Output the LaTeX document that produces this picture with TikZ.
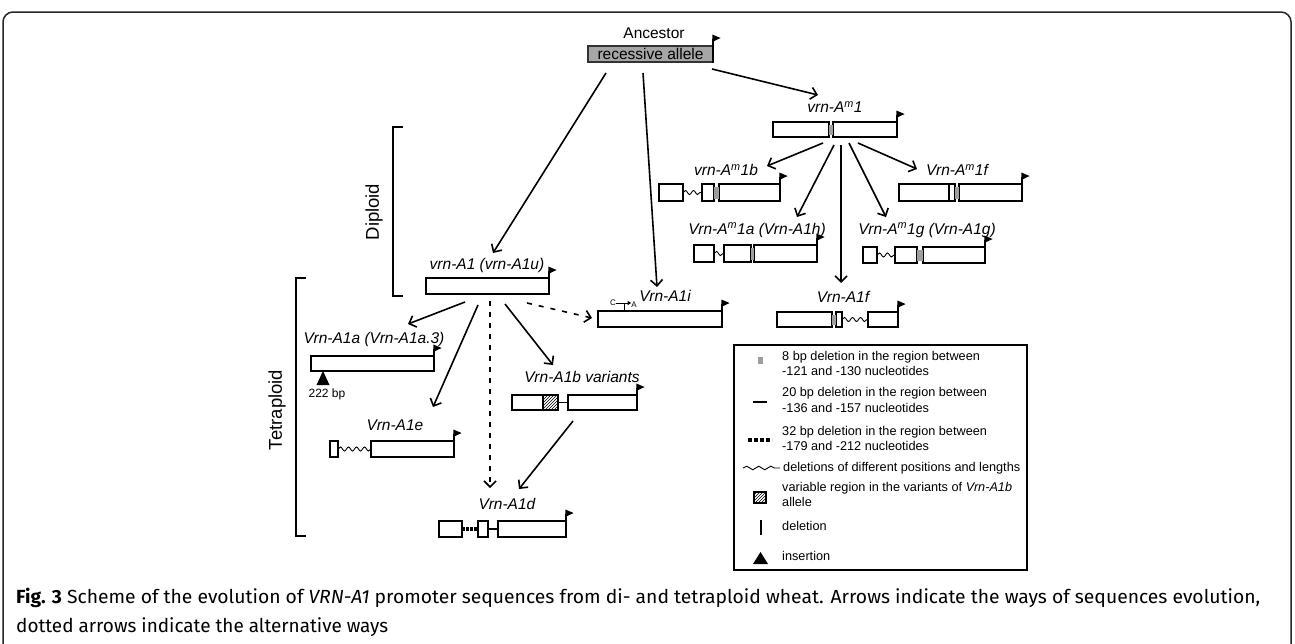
\documentclass[tikz,border=0pt]{standalone}
\usepackage{fontspec}
\setmainfont{Liberation Sans}
\newfontfamily\capfont{Fira Sans}
\usetikzlibrary{arrows.meta,decorations.pathmorphing,patterns}
\newcommand\gbx[5]{\node[gb,minimum width={#3pt-#2pt},minimum height={#5pt-#4pt}] (#1) at ({(#2+#3)/2},{(#4+#5)/2}) {};}
\newcommand\gapr[4]{\fill[gapc] (#1,#3+3) rectangle (#2,#4-2.5);}
\newcommand\prom[3]{\draw[line width=2pt] (#1,#2+0.6) -- (#1,#3-7.5);
  \fill (#1-0.6,#3-11.5) -- (#1+7.5,#3-8) -- (#1-0.6,#3-4) -- cycle;}
\newcommand\wv[3]{\draw[wav] (#1,#3) -- (#2,#3);}
\begin{document}
\begin{tikzpicture}[x=1pt,y=-1pt,
  lbl/.style={font=\fontsize{15.5}{18}\selectfont\itshape, inner sep=0},
  upl/.style={font=\fontsize{15.5}{18}\selectfont, inner sep=0},
  brl/.style={font=\fontsize{18.5}{21}\selectfont, inner sep=0, rotate=90},
  lgt/.style={font=\fontsize{12.7}{15}\selectfont, inner sep=0, anchor=west, text height=9pt, text depth=3pt},
  gb/.style={draw, line width=1.3pt, fill=white, inner sep=0, outer sep=0},
  gapc/.style={fill=black!38},
  arr/.style={line width=1.6pt, -{Straight Barb[length=6pt,width=12pt]}},
  darr/.style={arr, dash pattern=on 5pt off 7pt},
  wav/.style={decorate, decoration={snake, amplitude=2pt, segment length=8pt}, line width=0.9pt},
]
\useasboundingbox (0,0) rectangle (1295,643);
% frame
\draw[line width=1.5pt, black!85, rounded corners=10pt] (3,660) -- (3,12) -- (1291,12) -- (1291,660);

% ---------- Ancestor ----------
\node[upl] (anc) at (654,33) {Ancestor};
\node[draw=black!80, line width=1.3pt, fill=black!35, minimum width=125pt, minimum height=16pt, inner sep=0,
      font=\fontsize{15.5}{18}\selectfont] (ancbox) at (650.5,54) {recessive allele};
\prom{713}{62}{46}

% ---------- vrn-Am1 ----------
\node[lbl] (lAm1) at (835,107) {vrn-A\textsuperscript{m}1};
\gbx{bAm1L}{773}{829}{122}{137}
\gbx{bAm1R}{833}{897}{122}{137}
\gapr{829}{833}{122}{137}
\prom{897}{137}{122}

% vrn-Am1b
\node[lbl] (lAm1b) at (726,170) {vrn-A\textsuperscript{m}1b};
\gbx{bAm1bL}{659}{683}{184}{201}
\gbx{bAm1bS}{702}{714}{184}{201}
\gbx{bAm1bR}{719}{780}{184}{201}
\wv{683}{702}{192.5}
\gapr{714}{719}{184}{201}
\prom{780}{201}{184}

% Vrn-Am1f
\node[lbl] (lAm1f) at (957,170) {Vrn-A\textsuperscript{m}1f};
\gbx{bAm1fL}{899}{949}{184}{201}
\gbx{bAm1fS}{949}{955}{184}{201}
\gbx{bAm1fR}{959}{1022}{184}{201}
\gapr{955}{959}{184}{201}
\prom{1022}{201}{184}

% Vrn-Am1a (Vrn-A1h)
\node[lbl] (lAm1a) at (757,230) {Vrn-A\textsuperscript{m}1a (Vrn-A1h)};
\gbx{bAm1aL}{694}{714}{245}{262}
\gbx{bAm1aM}{724}{751}{245}{262}
\gbx{bAm1aR}{754}{817}{245}{262}
\wv{714}{724}{253.5}
\gapr{751}{754}{245}{262}
\prom{817}{262}{245}

% Vrn-Am1g (Vrn-A1g)
\node[lbl] (lAm1g) at (927,230) {Vrn-A\textsuperscript{m}1g (Vrn-A1g)};
\gbx{bAm1gL}{863}{877}{247}{263}
\gbx{bAm1gM}{895}{917}{247}{263}
\gbx{bAm1gR}{923}{985}{247}{263}
\wv{877}{895}{255}
\gapr{917}{923}{247}{263}
\prom{985}{263}{247}

% Vrn-A1f
\node[lbl] (lA1f) at (843,297) {Vrn-A1f};
\gbx{bA1fL}{777}{832}{312}{327}
\gbx{bA1fS}{836}{842}{312}{327}
\gbx{bA1fR}{868}{898}{312}{327}
\gapr{832}{836}{312}{327}
\wv{842}{868}{319.5}
\prom{898}{327}{312}

% Vrn-A1i
\node[lbl] (lA1i) at (665,296) {Vrn-A1i};
\gbx{bA1i}{598}{722}{311}{327}
\prom{722}{327}{311}
\node[font=\fontsize{8}{9}\selectfont, inner sep=0] (cC) at (613,303) {C};
\node[font=\fontsize{8}{9}\selectfont, inner sep=0] (cA) at (634,305) {A};
\draw[line width=0.8pt, -{Triangle[length=3.5pt,width=4pt]}] (cC.east) -- (cA.west |- cC.east);
\coordinate (tk) at (624,303);
\draw[line width=0.8pt] (tk) -- (tk |- bA1i.north);

% vrn-A1 (vrn-A1u)
\node[lbl] (lA1) at (487,265) {vrn-A1 (vrn-A1u)};
\gbx{bA1}{426}{549}{278}{294}
\prom{549}{294}{278}

% Vrn-A1a (Vrn-A1a.3)
\node[lbl] (lA1a) at (374,339) {Vrn-A1a (Vrn-A1a.3)};
\gbx{bA1a}{311}{434}{356}{371}
\prom{434}{371}{356}
\fill (323,371) -- (316.5,385) -- (329.5,385) -- cycle;
\node[font=\fontsize{12}{14}\selectfont, inner sep=0] (l222) at (327,394) {222 bp};

% Vrn-A1e
\node[lbl] (lA1e) at (395,425) {Vrn-A1e};
\gbx{bA1eS}{330}{338}{441}{457}
\gbx{bA1eR}{371}{454}{441}{457}
\wv{338}{371}{449}
\prom{454}{457}{441}

% Vrn-A1b variants
\node[lbl] (lA1b) at (582,377) {Vrn-A1b variants};
\gbx{bA1bL}{512}{558}{395}{410}
\fill[pattern=north east lines] (543,396) rectangle (557,409);
\draw[line width=1.3pt] (543,395) -- (543,410);
\gbx{bA1bR}{568}{637}{395}{410}
\draw[line width=1.3pt] (bA1bL.east) -- (bA1bR.west);
\prom{637}{410}{395}

% Vrn-A1d
\node[lbl] (lA1d) at (507,504) {Vrn-A1d};
\gbx{bA1dL}{439}{462}{521}{537}
\gbx{bA1dS}{478}{488}{521}{537}
\gbx{bA1dR}{498}{566}{521}{537}
\draw[line width=3.5pt, dash pattern=on 2.5pt off 1.6pt] (bA1dL.east) -- (bA1dS.west);
\draw[line width=1.3pt] (bA1dS.east) -- (bA1dR.west);
\prom{566}{537}{521}

% ---------- brackets ----------
\draw[line width=1.3pt] (403,127) -- (393,127) -- (393,296) -- (403,296);
\node[brl] (ldip) at (374,212) {Diploid};
\draw[line width=1.3pt] (306,278) -- (296,278) -- (296,536) -- (306,536);
\node[brl] (ltet) at (277,410) {Tetraploid};

% ---------- arrows ----------
\coordinate (a1s) at (606,73);  \coordinate (a1e) at (493,253);
\coordinate (a2s) at (643,73);  \coordinate (a2e) at (657,287);
\coordinate (a3s) at (712,69);  \coordinate (a3e) at (818,95);
\draw[arr] (a1s) -- (a1e);
\draw[arr] (a2s) -- (a2e);
\draw[arr] (a3s) -- (a3e);
\coordinate (b1s) at (823,143); \coordinate (b1e) at (767,166);
\coordinate (b2s) at (834,145); \coordinate (b2e) at (797,217);
\coordinate (b3s) at (841,145); \coordinate (b3e) at (841,283);
\coordinate (b4s) at (849,143); \coordinate (b4e) at (886,217);
\coordinate (b5s) at (858,143); \coordinate (b5e) at (917,169);
\draw[arr] (b1s) -- (b1e);
\draw[arr] (b2s) -- (b2e);
\draw[arr] (b3s) -- (b3e);
\draw[arr] (b4s) -- (b4e);
\draw[arr] (b5s) -- (b5e);
\coordinate (c1s) at (465,302); \coordinate (c1e) at (408,324);
\coordinate (c2s) at (478,305); \coordinate (c2e) at (433,407);
\coordinate (c3s) at (490,301); \coordinate (c3e) at (490,488);
\coordinate (c4s) at (505,304); \coordinate (c4e) at (553,365);
\coordinate (c5s) at (527,303); \coordinate (c5e) at (592,318);
\coordinate (d1s) at (573,421); \coordinate (d1e) at (519,489);
\draw[arr] (c1s) -- (c1e);
\draw[arr] (c2s) -- (c2e);
\draw[darr, dash pattern=on 5pt off 6pt] (c3s) -- (c3e);
\draw[arr] (c4s) -- (c4e);
\draw[darr] (c5s) -- (c5e);
\draw[arr] (d1s) -- (d1e);

% ---------- legend ----------
\node[draw, line width=1.3pt, minimum width=293pt, minimum height=225pt, inner sep=0] (leg) at (880.5,457.5) {};
\fill[black!38] (757.5,356.5) rectangle (762.5,363.5);
\node[lgt] (lg1a) at (782,357) {8 bp deletion in the region between};
\node[lgt] (lg1b) at (782,372) {-121 and -130 nucleotides};
\draw[line width=1.6pt] (753,402) -- (767,402);
\node[lgt] (lg2a) at (782,393) {20 bp deletion in the region between};
\node[lgt] (lg2b) at (782,409) {-136 and -157 nucleotides};
\draw[line width=3.5pt, dash pattern=on 3.5pt off 2.5pt] (748,440) -- (772,440);
\node[lgt] (lg3a) at (782,432) {32 bp deletion in the region between};
\node[lgt] (lg3b) at (782,447) {-179 and -212 nucleotides};
\draw[wav, decoration={snake, amplitude=1.8pt, segment length=12pt}] (743,468) -- (780,468);
\node[lgt] (lg4) at (783,468) {deletions of different positions and lengths};
\fill[pattern=north east lines] (754,492) rectangle (766,503);
\draw[line width=1.2pt] (754,492) rectangle (766,503);
\node[lgt] (lg5a) at (782,488) {variable region in the variants of \textit{Vrn-A1b}};
\node[lgt] (lg5b) at (782,503) {allele};
\draw[line width=1.6pt] (761,520) -- (761,535);
\node[lgt] (lg6) at (782,527) {deletion};
\fill (753,564) -- (768,564) -- (760.5,552) -- cycle;
\node[lgt] (lg7) at (782,557) {insertion};

% ---------- caption ----------
\node[anchor=west, inner sep=0] (cap1) at (16,598) {\resizebox{1244pt}{\height}{\capfont\fontsize{19}{22}\selectfont \textbf{Fig. 3} Scheme of the evolution of \textit{VRN-A1} promoter sequences from di- and tetraploid wheat. Arrows indicate the ways of sequences evolution,}};
\node[anchor=west, inner sep=0] (cap2) at (16,627) {\resizebox{372pt}{\height}{\capfont\fontsize{19}{22}\selectfont dotted arrows indicate the alternative ways}};
\end{tikzpicture}
\end{document}
